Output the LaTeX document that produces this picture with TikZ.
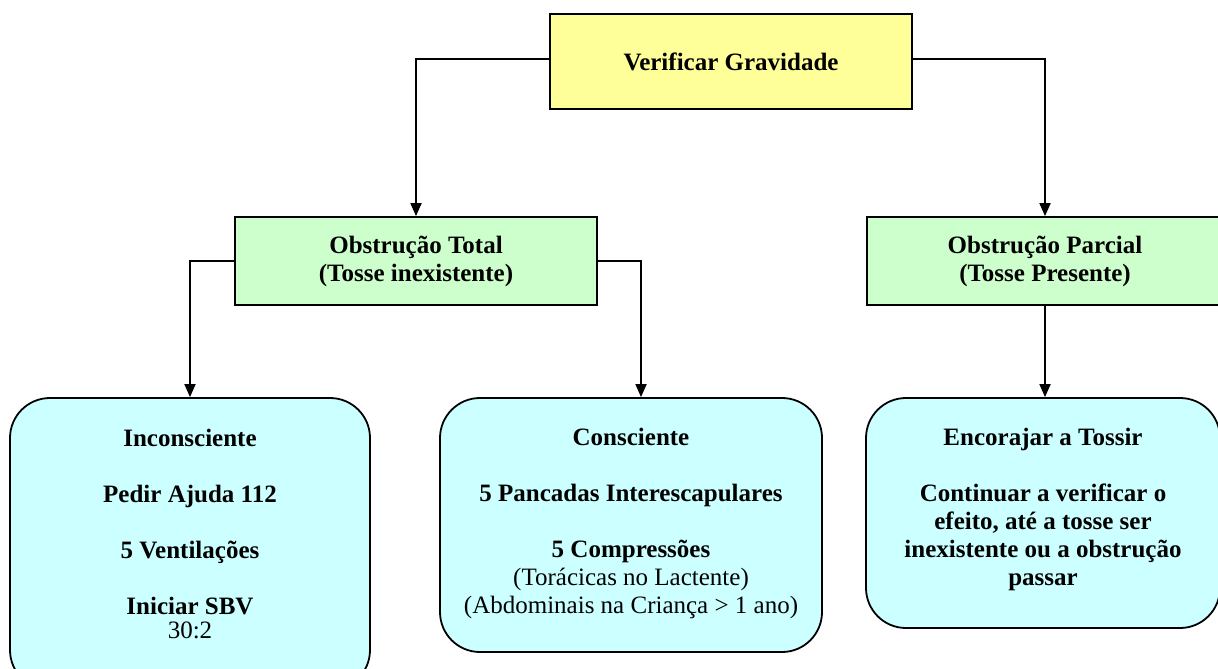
\documentclass[tikz,border=0pt]{standalone}
\usepackage{fontspec}
\setmainfont{Liberation Serif}
\usetikzlibrary{arrows.meta}

\definecolor{amarelo}{HTML}{FFFF99}
\definecolor{verde}{HTML}{CCFFCC}
\definecolor{ciano}{HTML}{CCFFFF}

\tikzstyle{caixa} = [rectangle, draw=black, line width=0.9pt, align=center, inner sep=0pt, font=\bfseries\fontsize{12.5}{14}\selectfont]
\tikzstyle{passo} = [caixa, rounded corners=20pt, fill=ciano]
\tikzstyle{seta} = [-{Triangle[length=6.5pt,width=5.5pt]}, line width=0.9pt]

\begin{document}
\begin{tikzpicture}[x=0.5pt,y=-0.5pt]
\useasboundingbox (0,0) rectangle (1218,668);
\clip (0,0) rectangle (1218,668);

\node[caixa, fill=amarelo, minimum width=181pt, minimum height=47.5pt] (Gv) at (731,61.5) {Verificar Gravidade};

\node[caixa, fill=verde, minimum width=181pt, minimum height=44pt] (Tot) at (416,261) {Obstrução Total\\(Tosse inexistente)};
\node[caixa, fill=verde, minimum width=178pt, minimum height=44pt] (Par) at (1045,261) {Obstrução Parcial\\(Tosse Presente)};

\node[passo, minimum width=180pt, minimum height=146pt, text depth=10.5pt] (Inc) at (190,544)
  {Inconsciente\\[14pt]Pedir Ajuda 112\\[14pt]5 Ventilações\\[14pt]Iniciar SBV\\[-2pt]{\mdseries 30:2}};
\node[passo, minimum width=191pt, minimum height=127pt, text depth=4.5pt] (Con) at (631,525)
  {Consciente\\[14pt]5 Pancadas Interescapulares\\[14pt]5 Compressões\\{\mdseries (Torácicas no Lactente)}\\{\mdseries (Abdominais na Criança > 1 ano)}};
\node[passo, minimum width=177pt, minimum height=115pt, text depth=6.5pt] (Enc) at (1043,513)
  {Encorajar a Tossir\\[14pt]Continuar a verificar o\\efeito, até a tosse ser\\inexistente ou a obstrução\\passar};

\draw[seta] ([yshift=1.25pt]Gv.west) -| (Tot.north);
\draw[seta] ([yshift=1.25pt]Gv.east) -| (Par.north);
\draw[seta] (Tot.west) -| (Inc.north);
\draw[seta] (Tot.east) -| ([xshift=5pt]Con.north);
\draw[seta] (Par.south) -- (Par.south |- Enc.north);

\end{tikzpicture}
\end{document}
